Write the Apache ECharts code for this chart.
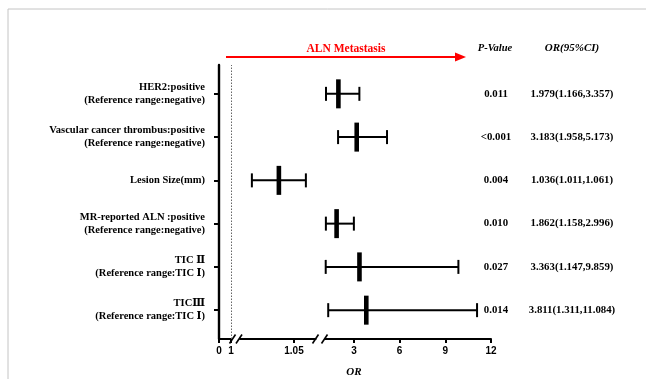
<!DOCTYPE html>
<html>
<head>
<meta charset="utf-8">
<script src="https://cdn.jsdelivr.net/npm/echarts@6.0.0/dist/echarts.min.js"></script>
<style>
html,body{margin:0;padding:0;background:#fff;}
#chart{width:646px;height:379px;}
</style>
</head>
<body>
<div id="chart"></div>
<script>
// ---- data ----
var rowLabels = [
  'HER2:positive\n(Reference range:negative)',
  'Vascular cancer thrombus:positive\n(Reference range:negative)',
  'Lesion Size(mm)',
  'MR-reported ALN :positive\n(Reference range:negative)',
  'TIC Ⅱ\n(Reference range:TIC Ⅰ)',
  'TICⅢ\n(Reference range:TIC Ⅰ)'
];
var orValues = [1.979, 3.183, 1.036, 1.862, 3.363, 3.811];
var ciLower  = [1.166, 1.958, 1.011, 1.158, 1.147, 1.311];
var ciUpper  = [3.357, 5.173, 1.061, 2.996, 9.859, 11.084];
var pValues  = ['0.011', '<0.001', '0.004', '0.010', '0.027', '0.014'];
var orText   = ['1.979(1.166,3.357)', '3.183(1.958,5.173)', '1.036(1.011,1.061)',
                '1.862(1.158,2.996)', '3.363(1.147,9.859)', '3.811(1.311,11.084)'];
var seg1Ticks = [0, 1];
var seg2Ticks = [1.05];
var seg3Ticks = [3, 6, 9, 12];

// ---- layout ----
var seg1 = {min: 0, max: 1};
var seg2 = {min: 1.0, max: 1.07};
var seg3 = {min: 1.1, max: 12};
var n = rowLabels.length;
var yMin = 1 / 3, yMax = n + 2 / 3;
var rowVals = [];
for (var i = 0; i < n; i++) rowVals.push(n - i);

var seg2Data = [], seg3Data = [];
for (var i = 0; i < n; i++) {
  var d = [n - i, ciLower[i], orValues[i], ciUpper[i]];
  if (ciUpper[i] <= seg2.max) seg2Data.push(d); else seg3Data.push(d);
}

var SERIF = "'Liberation Serif','Times New Roman','DejaVu Serif',serif";
var SANS = "'Liberation Sans',Arial,sans-serif";
var TOP = 65, H = 274;

function labelFor(arr) {
  return function (v) {
    var idx = n - Math.round(v);
    return arr[idx] !== undefined ? arr[idx] : '';
  };
}

function renderBar(params, api) {
  var y = api.value(0);
  var a = api.coord([api.value(1), y]);
  var m = api.coord([api.value(2), y]);
  var b = api.coord([api.value(3), y]);
  var st = {stroke: '#000', lineWidth: 2};
  return {
    type: 'group',
    children: [
      {type: 'line', shape: {x1: a[0], y1: a[1], x2: b[0], y2: b[1]}, style: st},
      {type: 'line', shape: {x1: a[0], y1: a[1] - 7, x2: a[0], y2: a[1] + 7}, style: st},
      {type: 'line', shape: {x1: b[0], y1: b[1] - 7, x2: b[0], y2: b[1] + 7}, style: st},
      {type: 'rect', shape: {x: m[0] - 2.3, y: m[1] - 14.5, width: 4.6, height: 29}, style: {fill: '#000'}}
    ]
  };
}

var xLabelStyle = {color: '#000', fontFamily: SANS, fontWeight: 'bold', fontSize: 10, margin: 7};
var xLine = {show: true, lineStyle: {color: '#000', width: 2}};
var xTick = {show: true, length: 4, lineStyle: {color: '#000', width: 2}};

function slash(x) {
  return {type: 'line', shape: {x1: x - 3, y1: 343.5, x2: x + 3, y2: 334.5},
          style: {stroke: '#000', lineWidth: 1.6}};
}

var option = {
  backgroundColor: '#fff',
  animation: false,
  grid: [
    {left: 219, top: TOP, width: 12, height: H},
    {left: 240, top: TOP, width: 75.6, height: H},
    {left: 325, top: TOP, width: 166, height: H}
  ],
  xAxis: [
    {gridIndex: 0, type: 'value', min: seg1.min, max: seg1.max, axisLine: xLine,
     axisTick: Object.assign({customValues: seg1Ticks}, xTick),
     axisLabel: Object.assign({customValues: seg1Ticks}, xLabelStyle), splitLine: {show: false}},
    {gridIndex: 1, type: 'value', min: seg2.min, max: seg2.max, axisLine: xLine,
     axisTick: Object.assign({customValues: seg2Ticks}, xTick),
     axisLabel: Object.assign({customValues: seg2Ticks}, xLabelStyle), splitLine: {show: false}},
    {gridIndex: 2, type: 'value', min: seg3.min, max: seg3.max, axisLine: xLine,
     axisTick: Object.assign({customValues: seg3Ticks}, xTick),
     axisLabel: Object.assign({customValues: seg3Ticks}, xLabelStyle), splitLine: {show: false}}
  ],
  yAxis: [
    {gridIndex: 0, type: 'value', min: yMin, max: yMax,
     axisLine: {show: true, lineStyle: {color: '#000', width: 2.4}},
     axisTick: {show: true, customValues: rowVals, length: 5, lineStyle: {color: '#000', width: 2}},
     axisLabel: {customValues: rowVals, formatter: labelFor(rowLabels), color: '#000',
                 fontFamily: SERIF, fontWeight: 'bold', fontSize: 10.5, lineHeight: 13, margin: 14},
     splitLine: {show: false}},
    {gridIndex: 1, type: 'value', min: yMin, max: yMax, show: false},
    {gridIndex: 2, type: 'value', min: yMin, max: yMax, position: 'right',
     axisLine: {show: false}, axisTick: {show: false}, splitLine: {show: false},
     axisLabel: {customValues: rowVals, formatter: labelFor(pValues), align: 'center', margin: 5,
                 color: '#000', fontFamily: SERIF, fontWeight: 'bold', fontSize: 10.8}},
    {gridIndex: 2, type: 'value', min: yMin, max: yMax, position: 'right',
     axisLine: {show: false}, axisTick: {show: false}, splitLine: {show: false},
     axisLabel: {customValues: rowVals, formatter: labelFor(orText), align: 'center', margin: 81,
                 color: '#000', fontFamily: SERIF, fontWeight: 'bold', fontSize: 10.8}}
  ],
  series: [
    {type: 'custom', xAxisIndex: 0, yAxisIndex: 0, data: [], renderItem: renderBar,
     markLine: {silent: true, symbol: ['none', 'none'], label: {show: false},
                lineStyle: {type: [1.5, 1.5], color: '#666', width: 1},
                data: [{xAxis: 1}]}},
    {type: 'custom', xAxisIndex: 1, yAxisIndex: 1, data: seg2Data, renderItem: renderBar,
     encode: {x: [1, 2, 3], y: 0}},
    {type: 'custom', xAxisIndex: 2, yAxisIndex: 2, data: seg3Data, renderItem: renderBar,
     encode: {x: [1, 2, 3], y: 0}}
  ],
  graphic: [
    {type: 'rect', shape: {x: 8, y: 9, width: 700, height: 420}, silent: true,
     style: {fill: 'none', stroke: '#c4c4c4', lineWidth: 1}},
    {type: 'line', shape: {x1: 226, y1: 57, x2: 457, y2: 57}, style: {stroke: '#ff0000', lineWidth: 2}},
    {type: 'polygon', shape: {points: [[455, 52.5], [466, 57], [455, 61.5]]}, style: {fill: '#ff0000'}},
    {type: 'text', x: 346, y: 49, style: {text: 'ALN Metastasis', fill: '#ff0000', font: 'bold 11.5px ' + SERIF,
      textAlign: 'center', textVerticalAlign: 'middle'}},
    {type: 'text', x: 495, y: 48, style: {text: 'P-Value', fill: '#000', font: 'italic bold 10.5px ' + SERIF,
      textAlign: 'center', textVerticalAlign: 'middle'}},
    {type: 'text', x: 572, y: 48, style: {text: 'OR(95%CI)', fill: '#000', font: 'italic bold 11px ' + SERIF,
      textAlign: 'center', textVerticalAlign: 'middle'}},
    {type: 'text', x: 354, y: 372, style: {text: 'OR', fill: '#000', font: 'italic bold 11px ' + SERIF,
      textAlign: 'center', textVerticalAlign: 'middle'}},
    slash(232.5), slash(239), slash(315.5), slash(324.5)
  ]
};

var chart = echarts.init(document.getElementById('chart'), null, {renderer: 'canvas'});
chart.setOption(option);
</script>
</body>
</html>
